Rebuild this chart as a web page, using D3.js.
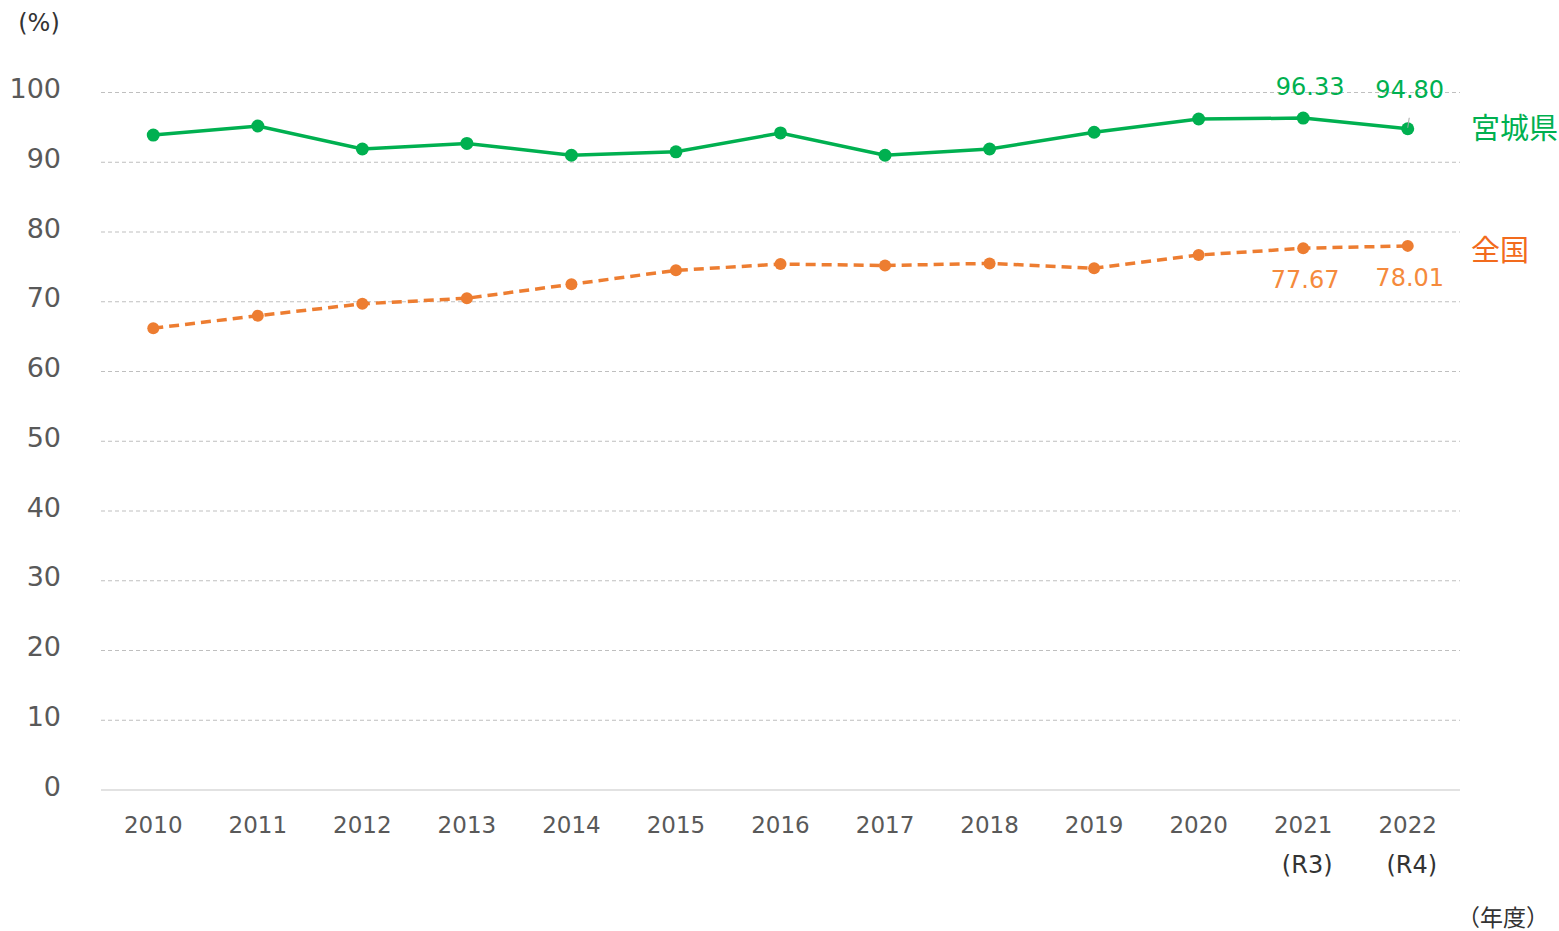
<!DOCTYPE html>
<html>
<head>
<meta charset="utf-8">
<script src="https://cdn.jsdelivr.net/npm/d3@7/dist/d3.min.js"></script>
<style>
  body { margin: 0; background: #fff; }
  text { font-family: "DejaVu Sans", Verdana, "Noto Sans CJK JP", sans-serif; }
</style>
</head>
<body>
<div id="chart"></div>
<script>
var years = ["2010","2011","2012","2013","2014","2015","2016","2017","2018","2019","2020","2021","2022"];
var eraLabels = {"2021": "(R3)", "2022": "(R4)"};
var miyagi = [93.9, 95.2, 91.9, 92.7, 91.0, 91.5, 94.2, 91.0, 91.9, 94.3, 96.2, 96.33, 94.80];
var zenkoku = [66.2, 68.0, 69.7, 70.5, 72.5, 74.5, 75.4, 75.2, 75.5, 74.8, 76.7, 77.67, 78.01];
var yTicks = [0, 10, 20, 30, 40, 50, 60, 70, 80, 90, 100];

var W = 1559, H = 931,
    plotLeft = 101, plotRight = 1460, plotTop = 92.5, plotBottom = 790,
    green = "#00b050", orange = "#ed7d31", orangeText = "#f58a3c", gray = "#595959";

var svg = d3.select("#chart").append("svg")
    .attr("width", W)
    .attr("height", H);

var x = d3.scaleBand().domain(years).range([plotLeft, plotRight]);
var y = d3.scaleLinear().domain([0, 100]).range([plotBottom, plotTop]);
var cx = function(d, i) { return x(years[i]) + x.bandwidth() / 2; };

// gridlines
svg.append("g").selectAll("line")
  .data(yTicks.filter(function(t) { return t > 0; }))
  .enter().append("line")
    .attr("x1", plotLeft).attr("x2", plotRight)
    .attr("y1", function(d) { return y(d); })
    .attr("y2", function(d) { return y(d); })
    .attr("stroke", "#bfbfbf")
    .attr("stroke-width", 1)
    .attr("stroke-dasharray", "4,3");

svg.append("line")
  .attr("x1", plotLeft).attr("x2", plotRight)
  .attr("y1", y(0)).attr("y2", y(0))
  .attr("stroke", "#d9d9d9").attr("stroke-width", 1.5);

// y labels
svg.append("g").selectAll("text")
  .data(yTicks)
  .enter().append("text")
    .attr("x", 61)
    .attr("y", function(d) { return y(d) - 4; })
    .attr("dy", "0.36em")
    .attr("text-anchor", "end")
    .attr("font-size", 27)
    .attr("fill", gray)
    .text(function(d) { return d; });

// x labels
svg.append("g").selectAll("text")
  .data(years)
  .enter().append("text")
    .attr("x", function(d) { return x(d) + x.bandwidth() / 2; })
    .attr("y", 825)
    .attr("dy", "0.36em")
    .attr("text-anchor", "middle")
    .attr("font-size", 23)
    .attr("fill", gray)
    .text(function(d) { return d; });

svg.append("g").selectAll("text")
  .data(Object.keys(eraLabels))
  .enter().append("text")
    .attr("x", function(d) { return x(d) + x.bandwidth() / 2 + 4; })
    .attr("y", 864)
    .attr("dy", "0.36em")
    .attr("text-anchor", "middle")
    .attr("font-size", 24)
    .attr("fill", "#333")
    .text(function(d) { return eraLabels[d]; });

svg.append("text")
  .attr("x", 39).attr("y", 22).attr("dy", "0.36em")
  .attr("text-anchor", "middle").attr("font-size", 24).attr("fill", "#333")
  .text("(%)");

svg.append("text")
  .attr("x", 1503).attr("y", 918).attr("dy", "0.36em")
  .attr("text-anchor", "middle").attr("font-size", 23).attr("fill", "#333")
  .text("（年度）");

var line = d3.line()
  .x(cx)
  .y(function(d) { return y(d); });

// 全国
svg.append("path")
  .datum(zenkoku)
  .attr("d", line)
  .attr("fill", "none")
  .attr("stroke", orange)
  .attr("stroke-width", 3.5)
  .attr("stroke-dasharray", "10,6");

svg.append("g").selectAll("circle")
  .data(zenkoku)
  .enter().append("circle")
    .attr("cx", cx)
    .attr("cy", function(d) { return y(d); })
    .attr("r", 6)
    .attr("fill", orange);

// 宮城県
svg.append("path")
  .datum(miyagi)
  .attr("d", line)
  .attr("fill", "none")
  .attr("stroke", green)
  .attr("stroke-width", 3.5);

svg.append("g").selectAll("circle")
  .data(miyagi)
  .enter().append("circle")
    .attr("cx", cx)
    .attr("cy", function(d) { return y(d); })
    .attr("r", 6.5)
    .attr("fill", green);

// leader line for 94.80
var last = years.length - 1;
svg.append("line")
  .attr("x1", cx(null, last) + 1.5).attr("y1", y(miyagi[last]) - 11)
  .attr("x2", cx(null, last)).attr("y2", y(miyagi[last]) - 1)
  .attr("stroke", "#a6a6a6").attr("stroke-width", 1);

// value labels
var valueLabels = [
  {i: 11, v: miyagi[11], dx: 7, yy: 86, c: green},
  {i: 12, v: miyagi[12], dx: 2, yy: 89, c: green},
  {i: 11, v: zenkoku[11], dx: 2, yy: 279, c: orangeText},
  {i: 12, v: zenkoku[12], dx: 2, yy: 277, c: orangeText}
];
svg.append("g").selectAll("text")
  .data(valueLabels)
  .enter().append("text")
    .attr("x", function(d) { return cx(null, d.i) + d.dx; })
    .attr("y", function(d) { return d.yy; })
    .attr("dy", "0.36em")
    .attr("text-anchor", "middle")
    .attr("font-size", 24)
    .attr("fill", function(d) { return d.c; })
    .text(function(d) { return d.v.toFixed(2); });

// series names
svg.append("text")
  .attr("x", 1471).attr("y", 129).attr("dy", "0.36em")
  .attr("font-size", 29).attr("fill", green)
  .text("宮城県");
svg.append("text")
  .attr("x", 1471).attr("y", 251).attr("dy", "0.36em")
  .attr("font-size", 29).attr("fill", "#f26b1d")
  .text("全国");
</script>
</body>
</html>
